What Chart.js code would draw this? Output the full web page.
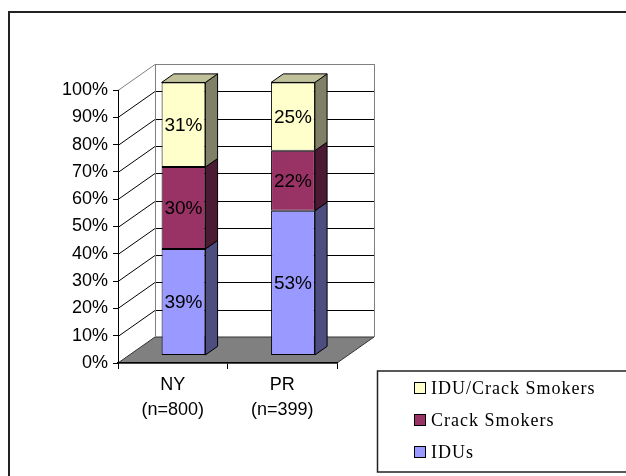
<!DOCTYPE html>
<html><head><meta charset="utf-8">
<script src="https://cdn.jsdelivr.net/npm/chart.js@4/dist/chart.umd.min.js"></script>
<style>html,body{margin:0;padding:0;background:#fff;} #wrap{position:relative;width:626px;height:476px;}</style>
</head><body><div id="wrap"><canvas id="c" width="626" height="476"></canvas></div>
<script>
// ---- data ----
const categories = [['NY', '(n=800)'], ['PR', '(n=399)']];
const seriesNames = ['IDUs', 'Crack Smokers', 'IDU/Crack Smokers'];
const idus = [39, 53];
const crackSmokers = [30, 22];
const iduCrackSmokers = [31, 25];
const yTickLabels = ['0%', '10%', '20%', '30%', '40%', '50%', '60%', '70%', '80%', '90%', '100%'];

// ---- style ----
const frontColors = ['#9999FF', '#993366', '#FFFFCC'];
const sideColors = ['#4D4D80', '#4D1A33', '#808066'];
const topColors = ['#7373BF', '#73264D', '#C0C09A'];
const WALL_DX = 37, WALL_DY = 26;      // depth of the 3D walls
const T_FRONT = 0.29, T_BACK = 0.62;  // bar position inside depth
const FX = WALL_DX * T_FRONT, FY = WALL_DY * T_FRONT;
const BDX = WALL_DX * (T_BACK - T_FRONT), BDY = WALL_DY * (T_BACK - T_FRONT);

const seriesData = [idus, crackSmokers, iduCrackSmokers];

const threeD = {
  id: 'threeD',
  beforeDraw(chart) {
    const { ctx, chartArea: a, scales: { y } } = chart;
    ctx.save();
    // outer frame
    ctx.strokeStyle = '#222'; ctx.lineWidth = 2;
    ctx.strokeRect(9, 12, 800, 600);
    const bx0 = a.left + WALL_DX, bx1 = a.right + WALL_DX;
    const by0 = a.top - WALL_DY, by1 = a.bottom - WALL_DY;
    // floor
    ctx.fillStyle = '#808080';
    ctx.beginPath();
    ctx.moveTo(a.left, a.bottom); ctx.lineTo(a.right, a.bottom);
    ctx.lineTo(bx1, by1); ctx.lineTo(bx0, by1); ctx.closePath(); ctx.fill();
    ctx.strokeStyle = '#333'; ctx.lineWidth = 1; ctx.stroke();
    // gridlines on left and back walls
    y.ticks.forEach(t => {
      if (t.value === 0) return;
      const py = Math.round(y.getPixelForValue(t.value)) + 0.5;
      ctx.strokeStyle = t.value === 100 ? '#808080' : '#000';
      ctx.lineWidth = 1;
      ctx.beginPath();
      ctx.moveTo(a.left, py); ctx.lineTo(bx0, py - WALL_DY); ctx.lineTo(bx1, py - WALL_DY);
      ctx.stroke();
    });
    // wall outlines
    ctx.strokeStyle = '#808080'; ctx.lineWidth = 1;
    ctx.beginPath();
    ctx.moveTo(Math.round(bx0) + 0.5, by1); ctx.lineTo(Math.round(bx0) + 0.5, by0);
    ctx.moveTo(Math.round(bx1) + 0.5, by0); ctx.lineTo(Math.round(bx1) + 0.5, by1);
    ctx.stroke();
    ctx.restore();
  },
  beforeDatasetsDraw(chart) {
    chart.ctx.save();
    chart.ctx.translate(FX, -FY);
  },
  afterDatasetsDraw(chart) {
    const ctx = chart.ctx;
    ctx.restore();
    ctx.save();
    const n = chart.data.datasets.length;
    chart.data.datasets.forEach((ds, di) => {
      const meta = chart.getDatasetMeta(di);
      meta.data.forEach((el, j) => {
        const p = el.getProps(['x', 'y', 'base', 'width'], true);
        const xl = p.x - p.width / 2 + FX, xr = p.x + p.width / 2 + FX;
        const yt = p.y - FY, yb = p.base - FY;
        ctx.lineWidth = 1; ctx.strokeStyle = '#000';
        // side face
        ctx.fillStyle = sideColors[di];
        ctx.beginPath();
        ctx.moveTo(xr, yt); ctx.lineTo(xr + BDX, yt - BDY);
        ctx.lineTo(xr + BDX, yb - BDY); ctx.lineTo(xr, yb); ctx.closePath();
        ctx.fill(); ctx.stroke();
        if (di === n - 1) {
          ctx.fillStyle = topColors[di];
          ctx.beginPath();
          ctx.moveTo(xl, yt); ctx.lineTo(xr, yt);
          ctx.lineTo(xr + BDX, yt - BDY); ctx.lineTo(xl + BDX, yt - BDY); ctx.closePath();
          ctx.fill(); ctx.stroke();
        }
      });
    });
    // data labels
    ctx.font = '19px "Liberation Sans", Arial, sans-serif';
    ctx.fillStyle = '#000'; ctx.textAlign = 'center'; ctx.textBaseline = 'middle';
    chart.data.datasets.forEach((ds, di) => {
      chart.getDatasetMeta(di).data.forEach((el, j) => {
        const p = el.getProps(['x', 'y', 'base'], true);
        ctx.fillText(ds.data[j] + '%', p.x + FX, (p.y + p.base) / 2 - FY + 1);
      });
    });
    ctx.restore();
  },
  afterDraw(chart) {
    const ctx = chart.ctx;
    ctx.save();
    // legend box
    ctx.strokeStyle = '#222'; ctx.lineWidth = 1.5;
    ctx.strokeRect(377.5, 371, 300, 101);
    const rows = [388, 420, 452];
    ctx.font = '18px "Liberation Serif", "Times New Roman", serif';
    try { ctx.letterSpacing = '1px'; } catch (e) {}
    ctx.textAlign = 'left'; ctx.textBaseline = 'middle';
    for (let k = 0; k < seriesNames.length; k++) {
      const di = seriesNames.length - 1 - k;
      const ry = rows[k];
      ctx.fillStyle = frontColors[di];
      ctx.fillRect(414.5, ry - 5.5, 11, 11);
      ctx.strokeStyle = '#000'; ctx.lineWidth = 1;
      ctx.strokeRect(414.5, ry - 5.5, 11, 11);
      ctx.fillStyle = '#000';
      ctx.fillText(seriesNames[di], 431, ry + 1);
    }
    ctx.restore();
  }
};

new Chart(document.getElementById('c'), {
  type: 'bar',
  data: {
    labels: categories,
    datasets: seriesNames.map((name, i) => ({
      label: name,
      data: seriesData[i],
      backgroundColor: frontColors[i],
      borderColor: '#000',
      borderWidth: 1,
      borderSkipped: false,
      categoryPercentage: 1,
      barPercentage: 0.4
    }))
  },
  options: {
    responsive: false,
    animation: false,
    devicePixelRatio: 1,
    layout: { padding: { left: 0, top: 90, right: 289, bottom: 0 } },
    plugins: { legend: { display: false }, tooltip: { enabled: false } },
    scales: {
      x: {
        stacked: true,
        grid: { display: true, drawOnChartArea: false, tickLength: 6, color: '#000', offset: true },
        border: { display: true, color: '#000', width: 1.5 },
        ticks: { color: '#000', padding: 3, font: { family: '"Liberation Sans", Arial', size: 18, lineHeight: 1.4 } },
        afterFit: s => { s.height = 113; }
      },
      y: {
        stacked: true, min: 0, max: 100,
        grid: { display: true, drawOnChartArea: false, tickLength: 5, color: '#000' },
        border: { display: true, color: '#000', width: 1 },
        ticks: {
          stepSize: 10, color: '#000', padding: 5,
          font: { family: '"Liberation Sans", Arial', size: 18 },
          callback: (v, i) => yTickLabels[i]
        },
        afterFit: s => { s.width = 118; }
      }
    }
  },
  plugins: [threeD]
});
</script>
</body></html>
